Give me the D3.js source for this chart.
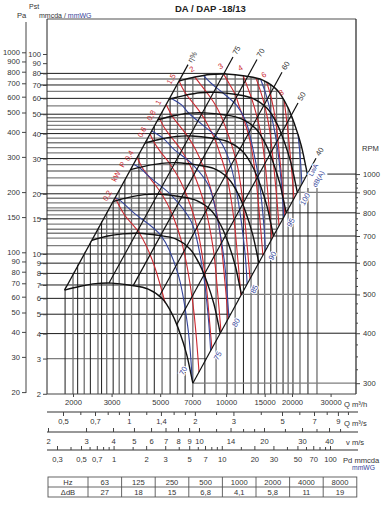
<!DOCTYPE html>
<html><head><meta charset="utf-8">
<script src="https://cdn.jsdelivr.net/npm/d3@7/dist/d3.min.js"></script>
<style>
html,body{margin:0;padding:0;background:#fff;}
svg{display:block;}
text{font-family:"Liberation Sans",Arial,sans-serif;}
</style></head><body>
<svg id="chart" width="383" height="511" viewBox="0 0 383 511"></svg>
<script>
// ================= DATA =================
const chartTitle = "DA / DAP -18/13";

// Fan curves, static pressure vs flow: [Q m³/h, Pst mmcda]
const rpmCurves = [
  {rpm:1000, pts:[[6100,73.3],[7200,76.7],[8450,79.0],[10000,79.4],[12200,77.6],[14700,74.1],[17100,66.1],[19000,55.0],[20600,44.2],[22000,35.1],[22900,28.8],[23500,25.1]]},
  {rpm:900,  pts:[[5490,59.4],[6480,62.1],[7605,64.0],[9000,64.3],[10980,62.9],[13230,60.0],[15390,53.5],[17100,44.6],[18540,35.8],[19800,28.4],[20610,23.3],[21150,20.3]]},
  {rpm:800,  pts:[[4880,46.9],[5760,49.1],[6760,50.6],[8000,50.8],[9760,49.7],[11760,47.4],[13680,42.3],[15200,35.2],[16480,28.3],[17600,22.5],[18320,18.4],[18800,16.1]]},
  {rpm:700,  pts:[[4270,35.9],[5040,37.6],[5915,38.7],[7000,38.9],[8540,38.0],[10290,36.3],[11970,32.4],[13300,27.0],[14420,21.7],[15400,17.2],[16030,14.1],[16450,12.3]]},
  {rpm:600,  pts:[[3660,26.4],[4320,27.6],[5070,28.4],[6000,28.6],[7320,27.9],[8820,26.7],[10260,23.8],[11400,19.8],[12360,15.9],[13200,12.6],[13740,10.4],[14100,9.04]]},
  {rpm:500,  pts:[[3050,18.3],[3600,19.2],[4225,19.8],[5000,19.9],[6100,19.4],[7350,18.5],[8550,16.5],[9500,13.8],[10300,11.1],[11000,8.78],[11450,7.2],[11750,6.28]]},
  {rpm:400,  pts:[[2440,11.7],[2880,12.3],[3380,12.6],[4000,12.7],[4880,12.4],[5880,11.9],[6840,10.6],[7600,8.8],[8240,7.07],[8800,5.62],[9160,4.61],[9400,4.02]]},
  {rpm:300,  pts:[[1830,6.60],[2160,6.90],[2535,7.11],[3000,7.15],[3660,6.98],[4410,6.67],[5130,5.95],[5700,4.95],[6180,3.98],[6600,3.16],[6870,2.59],[7050,2.26]]}
];

// Efficiency (system) lines: [Q, P] end points
const effLines = [
  {label:"η%", pts:[[1830,6.60],[6700,88.5]]},
  {label:"75", pts:[[2920,7.16],[10750,96.6]]},
  {label:"70", pts:[[3760,6.93],[13840,93.9]]},
  {label:"60", pts:[[4970,6.18],[18000,81.0]]},
  {label:"50", pts:[[5955,4.44],[21300,56.9]]},
  {label:"40", pts:[[7050,2.26],[25740,30.1]]}
];

// Absorbed power lines (kW)
const powerCurves = [
  {label:"0,2", pts:[[3117,19.14],[3160,18.5],[3433,15.71],[4022,12.7],[4600,9.34],[5266,5.71]]},
  {label:"0,4", pts:[[3927,30.37],[4124,27.25],[4516,23.76],[5110,19.8],[5707,15.58],[6296,11.3],[7022,5.86],[7522,2.57]]},
  {label:"0,6", pts:[[4494,39.8],[4654,36.75],[4980,32.78],[5501,28.51],[6112,23.74],[6684,18.99],[7323,13.94],[8046,7.6],[8328,5.15],[8610,3.37]]},
  {label:"0,8", pts:[[4946,48.2],[5229,42.74],[5621,38.33],[6186,33.5],[6797,28.19],[7361,22.97],[7990,17.46],[8745,10.54],[9140,6.51],[9478,4.08]]},
  {label:"1",   pts:[[5329,55.94],[5678,48.88],[6094,44.1],[6665,38.85],[7274,33.11],[7850,27.49],[8445,21.76],[9208,14.61],[9889,7.14],[10208,4.74]]},
  {label:"1,5", pts:[[6100,73.3],[6318,67.69],[6611,62.37],[7062,56.89],[7649,50.74],[8252,44.2],[8859,37.71],[9406,31.44],[10110,24.09],[10834,15.21],[11240,10.17],[11684,6.2]]},
  {label:"2",   pts:[[7200,76.7],[7631,70.61],[8170,64.12],[8793,57.16],[9418,49.89],[9951,42.81],[10549,35.71],[11289,27.27],[11989,17.41],[12328,12.81],[12860,7.52]]},
  {label:"3",   pts:[[9742,79.33],[10334,71.04],[11003,62.83],[11482,54.74],[12092,46.54],[12836,37.13],[13577,25.64],[14239,15.16],[14723,9.85]]},
  {label:"4",   pts:[[11980,77.78],[12485,68.84],[13061,60.23],[13737,50.02],[14513,38.41],[15175,26.25],[15605,18.62],[16206,11.94]]},
  {label:"",    pts:[[13700,75.5],[14318,65.76],[15043,54.59],[15827,41.34],[16450,28.45],[16895,21.04],[17456,13.85]]},
  {label:"6",   pts:[[15340,71.96],[16090,60.14],[16876,45.72],[17481,32.1],[17925,24.21],[18551,15.64]]},
  {label:"8",   pts:[[18415,58.42],[19059,43.17],[19457,34.52],[19981,25.31],[20414,18.94]]}
];
const powerUnitLabels = [{text:"P", q:3769, p:28}, {text:"kW", q:3526, p:24.5}];

// Sound power lines LwA dB(A)
const soundCurves = [
  {label:"70",  pts:[[3116,19.12],[3255,18.64],[3803,16.0],[5055,12.32],[6013,8.04],[6677,4.36],[7003,2.35]]},
  {label:"75",  pts:[[3776,28.09],[4016,27.05],[4564,23.8],[5644,19.59],[6928,14.54],[7843,8.14],[8291,4.83],[8500,3.28]]},
  {label:"80",  pts:[[4574,41.22],[5181,37.76],[5766,33.42],[7025,28.09],[8324,21.98],[9152,14.77],[9794,9.42],[10298,4.82]]},
  {label:"85",  pts:[[5542,60.5],[6261,55.63],[6760,50.56],[7754,44.51],[9295,37.28],[10313,29.66],[11146,20.69],[12179,10.32],[12476,7.07]]},
  {label:"90",  pts:[[7895,78.0],[8543,71.42],[9685,63.82],[11220,55.05],[12317,45.94],[13063,36.14],[14185,22.77],[14912,13.48],[15111,10.38]]},
  {label:"95",  pts:[[14388,74.54],[15191,63.0],[16032,50.17],[17156,33.96],[18046,19.96],[18311,15.24]]},
  {label:"100", pts:[[21300,39.65],[21846,29.59],[22186,22.37]]}
];

// Grid lines
const gridQ = [1840,2000,2100,2250,2400,2600,2700,2850,3050,3250,3450,3700,4000,4350,4700,5100,5550,6000,6500,7050,8000,9000,10100,11000,12000,13000,14000,15000,16000,17000,18200,19200,20200,21750,23650,26000];
const gridP = [80,75,70,65,60,55,50,48,46,44,42,40,38,36,34,32,30,28,26,24,22,20,19,18,17,16.5,15.7,15,14.1,13.3,12.7,12,11,10,9,8,7,6,5,4,3];
const majorP = [80,70,60,50,40,30,20,15,10,9,8,7,6,5,4];

// Axis tick labels
const paTicks   = [1000,900,800,700,600,500,400,300,200,150,100,90,80,70,60,50,40,30,20];
const mmTicks   = [100,90,80,70,60,50,40,30,20,15,10,9,8,7,6,5,4,3,2];
const rpmTicks  = [1000,900,800,700,600,500,400,300];
const rpmMinor  = [975,950,925,875,850,825,775,750,725,675,650,625,575,550,525,475,450,425,375,350,325];
const qhTicks   = [2000,3000,5000,7000,10000,15000,20000,30000];
const qsTicks   = [0.5,0.7,1,1.4,2,3,5,7,9];
const qsMinor   = [0.6,0.8,0.9,1.2,1.6,1.8,2.5,4,6,8,10];
const vTicks    = [2,3,4,5,6,7,8,9,10,14,20,30,40];
const vMinor    = [12,16,18,25,35,45];
const pdTicks   = [0.3,0.5,0.7,1,2,3,5,7,10,20,30,50,70,100];
const pdMinor   = [0.4,0.6,0.8,0.9,1.5,4,6,8,9,15,40,60,80,90];

// Octave-band correction table
const tableHz  = ["63","125","250","500","1000","2000","4000","8000"];
const tableDdB = ["27","18","15","6,8","4,1","5,8","11","19"];

// ================= DRAWING =================
const svg = d3.select("#chart");
const FL = 47, FR = 356, FT = 19, FB = 394;
const RED = "#cc2a31", BLUE = "#34449a", FS = 7.6;
const fmt = d => String(d).replace(".", ",");

const x = d3.scaleLog().domain([1800, 18000]).range([63, 282]);   // Q m³/h
const y = d3.scaleLog().domain([100, 10]).range([54, 254]);       // Pst mmcda
const yPa = d3.scaleLog().domain([1000, 20]).range([y(1000/9.807), y(20/9.807)]);
const c1000 = rpmCurves[0].pts, c300 = rpmCurves[rpmCurves.length-1].pts;
const yRpm = d3.scaleLog().domain([1000, 300])
  .range([y(c1000[c1000.length-1][1]), y(c300[c300.length-1][1])]);
const xQs = d3.scaleLog().domain([0.5, 5]).range([63, 282]);
const xV  = d3.scaleLog().domain([2, 20]).range([48, 264]);
const xPd = d3.scaleLog().domain([0.3, 100]).range([57, 330]);

const lineGen = d3.line().x(d => x(d[0])).y(d => y(d[1])).curve(d3.curveCatmullRom.alpha(0.5));

// clip paths
const defs = svg.append("defs");
const endTop = c1000[c1000.length-1], tip = c300[c300.length-1], leftBot = c300[0];
const hPath = `M30,60 L${x(c1000[3][0])},60 ` + lineGen(c1000.slice(3)).replace(/^M/, "L") +
  ` L${x(tip[0])},${y(tip[1])} L${x(tip[0])},400 L30,400 Z`;
defs.append("clipPath").attr("id", "hclip").append("path").attr("d", hPath);
const vPath = `M${x(leftBot[0])-1},400 L${x(leftBot[0])-1},${y(leftBot[1])} ` +
  lineGen(c1000).replace(/^M/, "L") + ` L${x(endTop[0])},188 L360,188 L360,400 Z`;
defs.append("clipPath").attr("id", "vclip").append("path").attr("d", vPath);

// grid
const gH = svg.append("g").attr("clip-path", "url(#hclip)");
gH.selectAll("line").data(gridP).join("line")
  .attr("x1", d => majorP.includes(d) ? 40 : FL).attr("x2", FR)
  .attr("y1", d => y(d)).attr("y2", d => y(d))
  .attr("stroke", d => majorP.includes(d) ? "#1c1c1c" : "#7e7e7e")
  .attr("stroke-width", d => majorP.includes(d) ? 1 : 1.3);
const gV = svg.append("g").attr("clip-path", "url(#vclip)");
gV.selectAll("line").data(gridQ).join("line")
  .attr("x1", d => x(d)).attr("x2", d => x(d)).attr("y1", FT).attr("y2", FB)
  .attr("stroke", (d, i) => i % 2 ? "#6e6e6e" : "#1c1c1c")
  .attr("stroke-width", (d, i) => i % 2 ? 1.3 : 1);

// rpm horizontal lines to the RPM scale
svg.append("g").selectAll("line").data(rpmCurves).join("line")
  .attr("x1", d => x(d.pts[d.pts.length-1][0]) + (d.rpm === 1000 ? 20 : 0))
  .attr("x2", FR).attr("y1", d => yRpm(d.rpm)).attr("y2", d => yRpm(d.rpm))
  .attr("stroke", d => [900,500,300].includes(d.rpm) ? "#7e7e7e" : "#1c1c1c")
  .attr("stroke-width", d => [900,500,300].includes(d.rpm) ? 1.3 : 1);

// power and sound lines
svg.append("g").selectAll("path").data(powerCurves).join("path")
  .attr("d", d => lineGen(d.pts)).attr("fill", "none").attr("stroke", RED).attr("stroke-width", 1.1);
svg.append("g").selectAll("path").data(soundCurves).join("path")
  .attr("d", d => lineGen(d.pts)).attr("fill", "none").attr("stroke", BLUE).attr("stroke-width", 1.1);

// rpm curves
svg.append("g").selectAll("path").data(rpmCurves).join("path")
  .attr("d", d => lineGen(d.pts)).attr("fill", "none").attr("stroke", "#111").attr("stroke-width", 1.4);

// efficiency lines
svg.append("g").selectAll("path").data(effLines).join("path")
  .attr("d", d => lineGen(d.pts)).attr("fill", "none").attr("stroke", "#111").attr("stroke-width", 1.2);

// frame
const fr = svg.append("g");
fr.append("line").attr("x1", FL).attr("x2", FR).attr("y1", FT).attr("y2", FT).attr("stroke", "#8a8a8a").attr("stroke-width", 1.3);
fr.append("line").attr("x1", FL).attr("x2", FL).attr("y1", FT).attr("y2", FB).attr("stroke", "#222").attr("stroke-width", 1);
fr.append("line").attr("x1", FR).attr("x2", FR).attr("y1", FT).attr("y2", FB).attr("stroke", "#222").attr("stroke-width", 1.2);
fr.append("line").attr("x1", FL).attr("x2", FR).attr("y1", FB).attr("y2", FB).attr("stroke", "#444").attr("stroke-width", 1.2);

function styleAxis(g, size) {
  g.select(".domain").remove();
  g.selectAll("text").attr("font-size", size || FS).attr("fill", "#333")
    .attr("font-family", '"Liberation Sans",Arial,sans-serif');
  g.selectAll("line").attr("stroke", "#444");
}

// Pa axis
svg.append("line").attr("x1", 26).attr("x2", 26).attr("y1", 22).attr("y2", 393).attr("stroke", "#444");
const gPa = svg.append("g").attr("transform", "translate(26,0)")
  .call(d3.axisLeft(yPa).tickValues(paTicks).tickFormat(d => d).tickSize(4).tickPadding(2));
styleAxis(gPa);
// mmcda axis
const gMm = svg.append("g").attr("transform", `translate(${FL},0)`)
  .call(d3.axisLeft(y).tickValues(mmTicks).tickFormat(d => d).tickSize(4).tickPadding(2));
styleAxis(gMm);
// RPM axis
const gR = svg.append("g").attr("transform", `translate(${FR},0)`)
  .call(d3.axisRight(yRpm).tickValues(rpmTicks).tickFormat(d => d).tickSize(4).tickPadding(3));
styleAxis(gR);
const gRm = svg.append("g").attr("transform", `translate(${FR},0)`)
  .call(d3.axisRight(yRpm).tickValues(rpmMinor).tickFormat("").tickSize(2));
styleAxis(gRm);

// bottom scales
const gQh = svg.append("g").attr("transform", `translate(0,${FB})`)
  .call(d3.axisBottom(x).tickValues(qhTicks).tickFormat(d => d).tickSize(3).tickPadding(3));
styleAxis(gQh);

function scaleRow(scale, ticks, minor, yy, dir) {
  svg.append("line").attr("x1", FL).attr("x2", 358).attr("y1", yy).attr("y2", yy).attr("stroke", "#333").attr("stroke-width", 1.2);
  const g1 = svg.append("g").attr("transform", `translate(0,${yy})`)
    .call(d3.axisBottom(scale).tickValues(ticks).tickFormat(fmt).tickSize(4 * dir).tickPadding(dir > 0 ? 3 : 7));
  styleAxis(g1);
  const g2 = svg.append("g").attr("transform", `translate(0,${yy})`)
    .call(d3.axisBottom(scale).tickValues(minor).tickFormat("").tickSize(3 * dir));
  styleAxis(g2);
}
scaleRow(xQs, qsTicks, qsMinor, 412, 1);
scaleRow(xV, vTicks, vMinor, 432, -1);
scaleRow(xPd, pdTicks, pdMinor, 450, -1);

const unitT = (tx, ty, s, col) => svg.append("text").attr("x", tx).attr("y", ty).attr("font-size", FS)
  .attr("fill", col || "#333").text(s);
unitT(344, 407, "Q m³/h");
unitT(344, 426, "Q m³/s");
unitT(346, 445, "v m/s");
unitT(343, 463, "Pd mmcda");
unitT(352, 470, "mmWG", BLUE).attr("font-size", 6.8);

// header texts
svg.append("text").attr("x", 175).attr("y", 12).attr("font-size", 9.5).attr("font-weight", "bold").attr("fill", "#222").text(chartTitle);
unitT(29, 9, "Pst").attr("font-size", 7);
unitT(17, 18, "Pa");
const hdr = svg.append("text").attr("x", 39).attr("y", 18).attr("font-size", 7).attr("fill", "#333");
hdr.append("tspan").text("mmcda / ");
hdr.append("tspan").attr("fill", BLUE).text("mmWG");
unitT(362, 151, "RPM");

// efficiency labels
svg.append("g").selectAll("text").data(effLines).join("text")
  .attr("transform", d => { const p = d.pts[1]; return `translate(${x(p[0]) + 1.5},${y(p[1]) - 3}) rotate(-61)`; })
  .attr("font-size", FS).attr("fill", "#333").attr("dy", "0.35em").text(d => d.label);

// power labels
svg.append("g").selectAll("text").data(powerCurves.filter(d => d.label)).join("text")
  .attr("transform", d => {
    const p = d.pts[0], px = x(p[0]), py = y(p[1]);
    return p[0] <= 6100 ? `translate(${px - 8},${py - 2}) rotate(-61)` : `translate(${px - 3},${py - 8}) rotate(-30)`;
  })
  .attr("text-anchor", "middle").attr("dy", "0.35em").attr("font-size", FS).attr("fill", RED).text(d => d.label);
svg.append("g").selectAll("text").data(powerUnitLabels).join("text")
  .attr("transform", d => `translate(${x(d.q) - 11},${y(d.p)}) rotate(-61)`)
  .attr("text-anchor", "middle").attr("dy", "0.35em").attr("font-size", FS).attr("fill", RED).text(d => d.text);

// sound labels
svg.append("g").selectAll("text").data(soundCurves).join("text")
  .attr("transform", d => {
    const p = d.pts[d.pts.length-1], px = x(p[0]), py = y(p[1]);
    if (d.label === "70") return `translate(${px - 9},${py - 9}) rotate(-61)`;
    if (d.label === "100") return `translate(${px + 3},${py + 15}) rotate(-61)`;
    return `translate(${px + 7},${py + 5}) rotate(-61)`;
  })
  .attr("text-anchor", "middle").attr("dy", "0.35em").attr("font-size", FS).attr("fill", BLUE)
  .attr("stroke", "#fff").attr("stroke-width", 2).attr("paint-order", "stroke").text(d => d.label);
svg.append("text").attr("transform", `translate(${x(endTop[0]) + 8},${y(endTop[1]) - 3}) rotate(-61)`)
  .attr("text-anchor", "middle").attr("font-size", 6.8).attr("fill", BLUE)
  .attr("stroke", "#fff").attr("stroke-width", 2).attr("paint-order", "stroke").text("LwA");
svg.append("text").attr("transform", `translate(${x(endTop[0]) + 13},${y(endTop[1]) + 6}) rotate(-61)`)
  .attr("text-anchor", "middle").attr("font-size", 6.8).attr("fill", BLUE)
  .attr("stroke", "#fff").attr("stroke-width", 2).attr("paint-order", "stroke").text("dB(A)");

// table
const T = {x0: 48, w0: 40, cw: 33.6, y0: 477, rh: 10};
const tb = svg.append("g");
const cols = d3.range(tableHz.length);
tb.append("rect").attr("x", T.x0).attr("y", T.y0).attr("width", T.w0 + T.cw * tableHz.length).attr("height", 2 * T.rh)
  .attr("fill", "none").attr("stroke", "#555").attr("stroke-width", 0.9);
tb.append("line").attr("x1", T.x0).attr("x2", T.x0 + T.w0 + T.cw * tableHz.length).attr("y1", T.y0 + T.rh).attr("y2", T.y0 + T.rh).attr("stroke", "#555").attr("stroke-width", 0.9);
tb.selectAll("line.c").data(cols).join("line").attr("class", "c")
  .attr("x1", i => T.x0 + T.w0 + i * T.cw).attr("x2", i => T.x0 + T.w0 + i * T.cw)
  .attr("y1", T.y0).attr("y2", T.y0 + 2 * T.rh).attr("stroke", "#555").attr("stroke-width", 0.9);
const rowsT = [["Hz", tableHz], ["ΔdB", tableDdB]];
rowsT.forEach(([head, vals], r) => {
  tb.append("text").attr("x", T.x0 + T.w0 / 2).attr("y", T.y0 + r * T.rh + T.rh / 2).attr("dy", "0.35em")
    .attr("text-anchor", "middle").attr("font-size", FS).attr("fill", "#333").text(head);
  tb.selectAll(null).data(vals).join("text")
    .attr("x", (d, i) => T.x0 + T.w0 + i * T.cw + T.cw / 2).attr("y", T.y0 + r * T.rh + T.rh / 2).attr("dy", "0.35em")
    .attr("text-anchor", "middle").attr("font-size", FS).attr("fill", "#333").text(d => d);
});
</script>
</body></html>
